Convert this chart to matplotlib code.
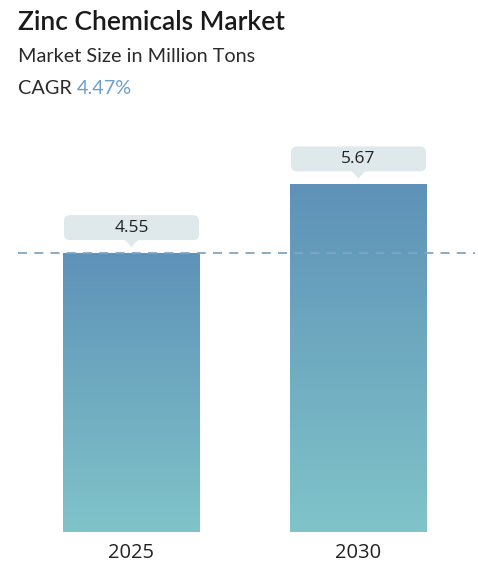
import numpy as np
import matplotlib
matplotlib.use("Agg")
import matplotlib.pyplot as plt
from matplotlib.patches import FancyBboxPatch, Polygon
from matplotlib.colors import LinearSegmentedColormap

years = ["2025", "2030"]
sizes = [4.55, 5.67]
title = "Zinc Chemicals Market"
subtitle = "Market Size in Million Tons"
cagr = "4.47%"

W, H = 478, 580
fig = plt.figure(figsize=(W / 100, H / 100), dpi=100)

# axes spans full width; bottom at bar baseline (y=532px), top at 110px
ax = fig.add_axes([0, (H - 532) / H, 1, (532 - 110) / H])
x = np.arange(len(years))
bar_w = 137 / 227
xlim = (-131.5 / 227, 1 + (478 - 358.5) / 227)
ylim = (0, 422 / 61.3)

cmap = LinearSegmentedColormap.from_list("g", ["#80c4c9", "#5e92b8"])
grad = np.linspace(0, 1, 256).reshape(-1, 1)
bars = ax.bar(x, sizes, width=bar_w, color="none", edgecolor="none")
for b in bars:
    x0, w, h = b.get_x(), b.get_width(), b.get_height()
    im = ax.imshow(grad, extent=[x0, x0 + w, 0, h], origin="lower",
                   cmap=cmap, aspect="auto", zorder=2)
    im.set_clip_path(b)
ax.set_xlim(*xlim)
ax.set_ylim(*ylim)
ax.axis("off")

# dashed reference line at first value
ax.axhline(sizes[0], xmin=18 / 478, xmax=475 / 478, color="#7fa6c6",
           lw=1.3, ls=(0, (5, 4)), zorder=3)

# overlay in pixel coordinates (y down) for callouts
ov = fig.add_axes([0, 0, 1, 1], zorder=5)
ov.set_xlim(0, W)
ov.set_ylim(H, 0)
ov.axis("off")
ov.patch.set_alpha(0)

fig.canvas.draw()
for xi, v in zip(x, sizes):
    cx, cy = ax.transData.transform((xi, v))
    cy = H - cy
    bw, bh = 135, 25
    top = cy - 13 - bh
    box = FancyBboxPatch((cx - bw / 2, top), bw, bh,
                         boxstyle="round,pad=0,rounding_size=6",
                         fc="#dfe9ec", ec="none")
    ov.add_patch(box)
    tri = Polygon([[cx - 7, top + bh - 0.5], [cx + 7, top + bh - 0.5],
                   [cx, cy - 6]], closed=True, fc="#dfe9ec", ec="none")
    ov.add_patch(tri)
    ov.text(cx, top + bh / 2 + 0.5, f"{v:.2f}", ha="center", va="center",
            fontsize=12.5, color="#222222", family="Open Sans")

px = 1 / 61.3
for xi, yr in zip(x, years):
    ax.text(xi, -21 * px, yr, ha="center", va="center", fontsize=14.5,
            color="#222222", family="Open Sans")

fig.text(18 / W, 1 - 22 / H, title, fontsize=19, fontweight="semibold",
         family="Lato", color="#1a1a1a", va="center")
fig.text(18 / W, 1 - 57 / H, subtitle, fontsize=14.3, family="Lato",
         color="#2a2a2a", va="center")
t = fig.text(18 / W, 1 - 88 / H, "CAGR ", fontsize=14.3, family="Lato",
             color="#2a2a2a", va="center")
fig.canvas.draw()
bb = t.get_window_extent()
fig.text(bb.x1 / W, 1 - 88 / H, cagr, fontsize=14.3, family="Lato",
         color="#6a9fcb", va="center")

fig.savefig("out.png", dpi=100)
